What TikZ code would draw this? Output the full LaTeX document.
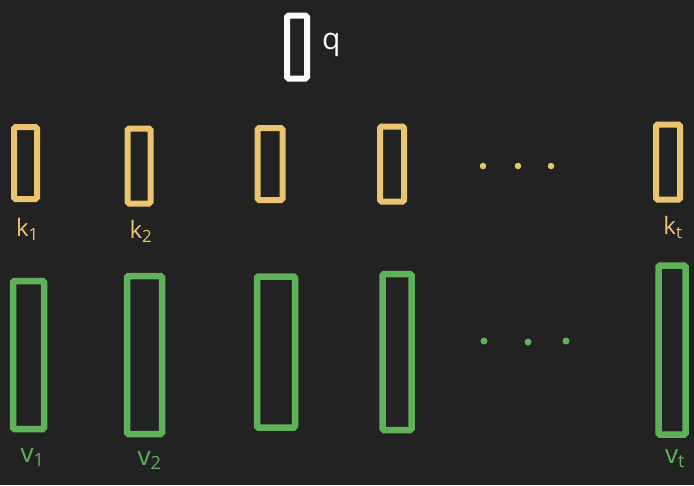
\documentclass[tikz,border=0pt]{standalone}
\usepackage{fontspec}
\setsansfont{Open Sans}
\usetikzlibrary{positioning}
\definecolor{bgdark}{RGB}{34,34,34}
\definecolor{keyyellow}{RGB}{234,196,110}
\definecolor{valgreen}{RGB}{96,178,90}
\definecolor{qwhite}{RGB}{250,250,250}
\tikzset{
  qvec/.style={rectangle, draw=qwhite, line width=6pt, rounded corners=1.5pt,
    minimum width=20pt, minimum height=63pt, inner sep=0pt},
  kvec/.style={rectangle, draw=keyyellow, line width=6pt, rounded corners=1.5pt,
    minimum width=23pt, minimum height=72pt, inner sep=0pt},
  vvec/.style={rectangle, draw=valgreen, line width=6.5pt, rounded corners=1.5pt,
    minimum width=31pt, minimum height=150pt, inner sep=0pt},
  kdot/.style={circle, fill=keyyellow, minimum size=6.5pt, inner sep=0pt},
  vdot/.style={circle, fill=valgreen, minimum size=7pt, inner sep=0pt},
  klbl/.style={font=\sffamily\fontsize{24}{28}\selectfont, text=keyyellow, inner sep=0pt},
  vlbl/.style={font=\sffamily\fontsize{26}{30}\selectfont, text=valgreen, inner sep=0pt},
  qlbl/.style={font=\sffamily\fontsize{30}{34}\selectfont, text=qwhite, inner sep=0pt}
}
\begin{document}
\begin{tikzpicture}[x=1pt, y=-1pt]
  \fill[bgdark] (0,0) rectangle (694,485);
  \useasboundingbox (0,0) rectangle (694,485);

  % query
  \node[qvec] (q) at (297,47) {};
  \node[qlbl, right=12pt of q, yshift=2pt] (qlab) {q};

  % keys
  \node[kvec] (k1) at (25.5,163) {};
  \node[kvec, minimum height=75pt] (k2) at (139,166) {};
  \node[kvec, minimum width=25pt] (k3) at (270,164) {};
  \node[kvec, minimum width=24pt, minimum height=75pt] (k4) at (392,164) {};
  \node[kvec, minimum width=24pt, minimum height=75pt] (kt) at (668,162) {};
  \node[kdot] (kd1) at (483,166) {};
  \node[kdot] (kd2) at (518,166) {};
  \node[kdot] (kd3) at (551,166) {};

  \node[klbl, below=16pt of k1, xshift=2pt] (k1lab) {k\textsubscript{1}};
  \node[klbl, below=14pt of k2, xshift=2pt] (k2lab) {k\textsubscript{2}};
  \node[klbl, below=14pt of kt, xshift=5pt] (ktlab) {k\textsubscript{t}};

  % values
  \node[vvec, minimum width=31pt, minimum height=148pt] (v1) at (28.5,355) {};
  \node[vvec, minimum width=35pt, minimum height=158pt] (v2) at (144.5,355) {};
  \node[vvec, minimum width=38pt, minimum height=151pt] (v3) at (276,352) {};
  \node[vvec, minimum width=29pt, minimum height=156pt] (v4) at (397,352) {};
  \node[vvec, minimum width=27pt, minimum height=169pt] (vt) at (672,350) {};
  \node[vdot] (vd1) at (484,341) {};
  \node[vdot] (vd2) at (528,342) {};
  \node[vdot] (vd3) at (566,341) {};

  \node[vlbl, below=16pt of v1, xshift=4pt] (v1lab) {v\textsubscript{1}};
  \node[vlbl, below=14pt of v2, xshift=5pt] (v2lab) {v\textsubscript{2}};
  \node[vlbl, below=12pt of vt, xshift=3pt] (vtlab) {v\textsubscript{t}};
\end{tikzpicture}
\end{document}
